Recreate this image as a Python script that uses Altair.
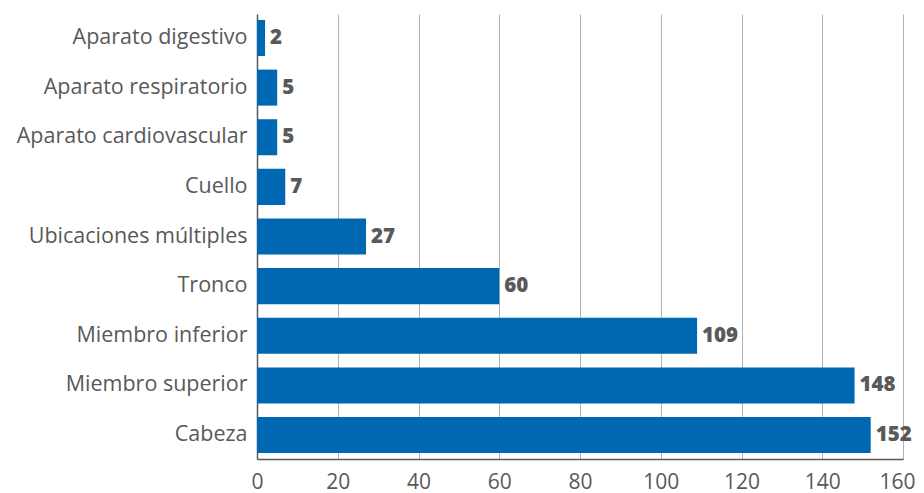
import altair as alt
import pandas as pd

categories = ["Aparato digestivo", "Aparato respiratorio", "Aparato cardiovascular", "Cuello",
              "Ubicaciones múltiples", "Tronco", "Miembro inferior", "Miembro superior", "Cabeza"]
values = [2, 5, 5, 7, 27, 60, 109, 148, 152]
x_ticks = [0, 20, 40, 60, 80, 100, 120, 140, 160]

df = pd.DataFrame({"cat": categories, "val": values})

FONT = "Open Sans"
GRAY = "#595959"

y = alt.Y("cat:N", sort=categories, title=None,
          scale=alt.Scale(paddingInner=0.274, paddingOuter=0.12),
          axis=alt.Axis(labelFontSize=21.5, labelColor=GRAY, labelFont=FONT, ticks=False,
                        labelPadding=10, labelLimit=400, domainColor=GRAY, domainWidth=1.5,
                        grid=False))
x = alt.X("val:Q", title=None,
          scale=alt.Scale(domain=[0, 160], nice=False),
          axis=alt.Axis(values=x_ticks, labelFontSize=21,
                        labelColor=GRAY, labelFont=FONT, ticks=False, labelPadding=12,
                        labelAlign={"condition": {"test": "datum.value == 160", "value": "right"},
                                    "value": "center"},
                        labelOffset={"condition": {"test": "datum.value == 160", "value": 12},
                                     "value": 0},
                        domainColor=GRAY, domainWidth=1.5, grid=True, gridColor="#b3b3b3",
                        gridWidth=1, labelFlush=False))

bars = alt.Chart(df).mark_bar(color="#0068B3").encode(x=x, y=y)
text = alt.Chart(df).mark_text(align="left", dx=5, fontSize=20.5, fontWeight=800,
                               color=GRAY, font=FONT).encode(
    x="val:Q", y=alt.Y("cat:N", sort=categories), text="val:Q")

chart = (bars + text).properties(
    width=646, height=445,
    autosize=alt.AutoSizeParams(type="none"),
    padding={"left": 249, "top": 6, "right": 13, "bottom": 34},
).configure_view(stroke=None)

chart.save("out.html", embed_options={"renderer": "svg", "actions": False})
